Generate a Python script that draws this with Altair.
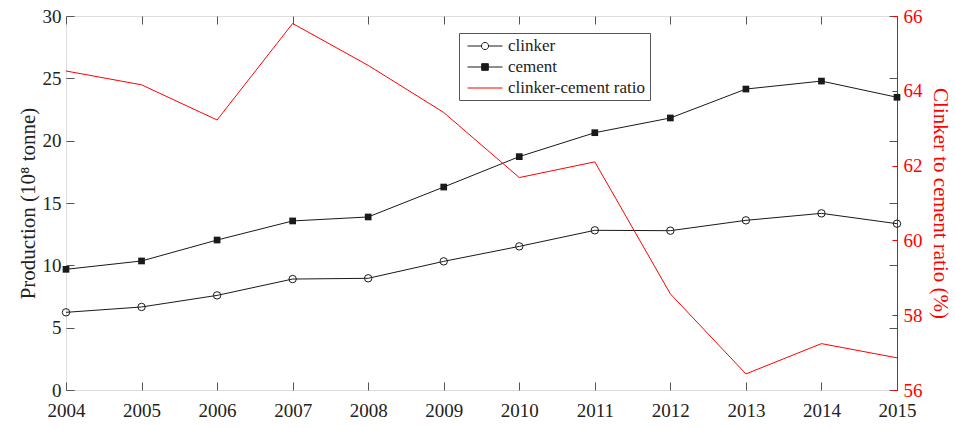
import altair as alt
import pandas as pd

# China clinker / cement production (10^8 t) and clinker-to-cement ratio (%)
years = list(range(2004, 2016))
clinker = [6.23, 6.66, 7.59, 8.90, 8.96, 10.32, 11.52, 12.81, 12.78, 13.61, 14.17, 13.34]
cement = [9.68, 10.35, 12.03, 13.56, 13.88, 16.28, 18.72, 20.64, 21.82, 24.14, 24.78, 23.48]
ratio = [64.53, 64.16, 63.22, 65.80, 64.68, 63.42, 61.68, 62.10, 58.57, 56.43, 57.24, 56.86]

series_names = ["clinker", "cement", "clinker-cement ratio"]
left_ticks = [0, 5, 10, 15, 20, 25, 30]
right_ticks = [56, 58, 60, 62, 64, 66]

df = pd.DataFrame({"year": years, "clinker": clinker, "cement": cement, "ratio": ratio})
legend_df = pd.DataFrame({"series": series_names})

FONT = "Liberation Serif"
GRAY = "#555555"
TEXT = "#222222"
DARK = "#1a1a1a"
RED = "#ff0000"

W, H = 831, 374


def x_enc(axis):
    return alt.X("year:Q", scale=alt.Scale(domain=[2004, 2015], nice=False, zero=False),
                 axis=axis, title=None)


left_scale = alt.Scale(domain=[0, 30], nice=False, zero=False)
right_scale = alt.Scale(domain=[56, 66], nice=False, zero=False)

bottom_axis = alt.Axis(orient="bottom", values=years, format="d", offset=-8, tickSize=8,
                       domain=False, grid=False, tickColor=GRAY, labelFont=FONT,
                       labelFontSize=19, labelColor=TEXT, labelPadding=11,
                       labelFlush=False, labelOverlap=False)
top_axis = alt.Axis(orient="top", values=years, offset=-8, tickSize=8, domain=False,
                    grid=False, tickColor=GRAY, labels=False)
left_axis = alt.Axis(orient="left", values=left_ticks, offset=-8, tickSize=8, domain=False,
                     grid=False, tickColor=GRAY, labelFont=FONT, labelFontSize=19,
                     labelColor=TEXT, labelPadding=5, labelFlush=False,
                     title="Production (10⁸ tonne)",
                     titleFont=FONT, titleFontSize=21, titleFontWeight="normal",
                     titleColor=TEXT, titlePadding=4)
mirror_axis = alt.Axis(orient="right", values=left_ticks, offset=-8, tickSize=8,
                       domain=False, grid=False, tickColor=GRAY, labels=False)
ratio_axis = alt.Axis(orient="right", values=right_ticks, offset=-5, tickSize=5,
                      domain=False, grid=False, tickColor=RED, labelFont=FONT,
                      labelFontSize=19, labelColor=RED, labelPadding=6, labelFlush=False,
                      title="Clinker to cement ratio (%)", titleFont=FONT,
                      titleFontSize=21, titleFontWeight="normal", titleColor=RED,
                      titlePadding=7)
ratio_edge = alt.Axis(orient="right", domain=True, domainColor=RED, ticks=False,
                      labels=False, grid=False)

base = alt.Chart(df)

clinker_line = base.mark_line(color=DARK, strokeWidth=1).encode(
    x=x_enc(bottom_axis), y=alt.Y("clinker:Q", scale=left_scale, axis=left_axis))
cement_line = base.mark_line(color=DARK, strokeWidth=1).encode(
    x=x_enc(top_axis), y=alt.Y("cement:Q", scale=left_scale, axis=mirror_axis, title=None))
clinker_pts = base.mark_point(shape="circle", filled=False, size=55, stroke=DARK,
                              strokeWidth=1, opacity=1).encode(
    x=x_enc(None), y=alt.Y("clinker:Q", scale=left_scale, axis=None))
cement_pts = base.mark_point(shape="square", filled=True, size=45, color=DARK,
                             opacity=1).encode(
    x=x_enc(None), y=alt.Y("cement:Q", scale=left_scale, axis=None))

left_group = alt.layer(clinker_line, cement_line, clinker_pts, cement_pts).resolve_axis(
    x="independent", y="independent")

ratio_line = base.mark_line(color=RED, strokeWidth=1).encode(
    x=x_enc(None), y=alt.Y("ratio:Q", scale=right_scale, axis=ratio_axis))
ratio_frame = base.mark_line(color=RED, strokeOpacity=0).encode(
    x=x_enc(None), y=alt.Y("ratio:Q", scale=right_scale, axis=ratio_edge, title=None))

right_group = alt.layer(ratio_line, ratio_frame).resolve_axis(y="independent")

# legend symbols: line with open circle, line with filled square, plain line
sym_circle = ("M-2.06,0H-0.42M0.42,0H2.06M-0.42,0A0.42,0.42,0,1,0,0.42,0"
              "A0.42,0.42,0,1,0,-0.42,0Z")
sym_square = "M-2.06,0H2.06M-0.39,-0.39H0.39V0.39H-0.39Z"
sym_line = "M-2.06,0H2.06"

legend = alt.Legend(orient="none", legendX=393, legendY=17, title=None, symbolSize=289,
                    symbolStrokeWidth=1, labelFont=FONT, labelFontSize=17,
                    labelColor=TEXT, padding=4, rowPadding=4, symbolOffset=13,
                    labelOffset=14, strokeColor=GRAY, fillColor="white", labelLimit=400)

legend_layer = alt.Chart(legend_df).mark_point(opacity=1, strokeWidth=1).encode(
    shape=alt.Shape("series:N", scale=alt.Scale(domain=series_names,
                    range=[sym_circle, sym_square, sym_line]), legend=legend),
    fill=alt.Fill("series:N", scale=alt.Scale(domain=series_names,
                  range=["transparent", DARK, "transparent"]), legend=legend),
    stroke=alt.Stroke("series:N", scale=alt.Scale(domain=series_names,
                      range=[DARK, DARK, RED]), legend=legend),
).transform_filter("false")

chart = alt.layer(left_group, right_group, legend_layer).resolve_scale(
    y="independent"
).resolve_axis(
    x="independent", y="independent"
).properties(
    width=W, height=H,
    autosize=alt.AutoSizeParams(type="none"),
    padding={"left": 66, "top": 16, "right": 58, "bottom": 38},
).configure_view(
    stroke=GRAY, strokeWidth=1
).configure(background="white")

chart.save("out.html", embed_options={"renderer": "svg", "actions": False})
